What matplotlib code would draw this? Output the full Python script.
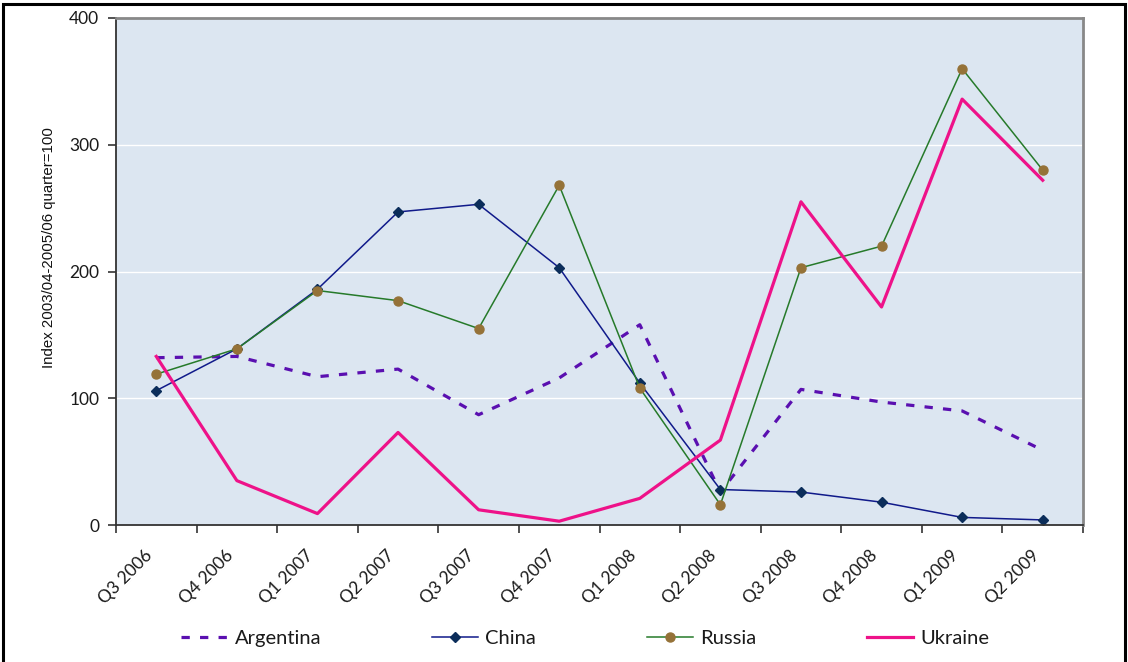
import matplotlib
matplotlib.use("Agg")
import matplotlib.pyplot as plt
import matplotlib.patches as patches
import matplotlib.transforms as mtransforms
import numpy as np

quarters = ["Q3 2006", "Q4 2006", "Q1 2007", "Q2 2007", "Q3 2007", "Q4 2007",
            "Q1 2008", "Q2 2008", "Q3 2008", "Q4 2008", "Q1 2009", "Q2 2009"]
argentina = [132, 133, 117, 123, 87, 116, 158, 26, 107, 97, 90, 59]
china = [106, 139, 186, 247, 253, 203, 112, 28, 26, 18, 6, 4]
russia = [119, 139, 185, 177, 155, 268, 108, 16, 203, 220, 360, 280]
ukraine = [133, 35, 9, 73, 12, 3, 21, 67, 255, 172, 336, 272]

plt.rcParams["font.family"] = ["Lato", "DejaVu Sans"]

fig = plt.figure(figsize=(11.28, 6.62), dpi=100)
ax = fig.add_axes([116 / 1128, 1 - 525 / 662, (1083 - 116) / 1128, (525 - 18) / 662])
ax.set_facecolor("#dce6f1")

x = np.arange(len(quarters))
ax.plot(x, argentina, color="#5a0fb0", lw=2.3, linestyle=(0, (2.6, 3.2)),
        label="Argentina")
ax.plot(x, china, color="#101a8a", lw=1.1, marker="D", markersize=5,
        markerfacecolor="#0b2d5a", markeredgecolor="#0b2d5a", label="China")
ax.plot(x, russia, color="#267a2a", lw=1.1, marker="o", markersize=6.5,
        markerfacecolor="#957238", markeredgecolor="#957238", label="Russia")
ax.plot(x, ukraine, color="#ee1289", lw=2.3, label="Ukraine")

ax.set_xlim(-0.5, len(quarters) - 0.5)
ax.set_ylim(0, 400)
ax.set_yticks([0, 100, 200, 300, 400])
ax.grid(axis="y", color="white", lw=1)
ax.set_axisbelow(True)

# category boundaries as major ticks, labels on centres
ax.set_xticks(np.arange(-0.5, len(quarters), 1.0))
ax.set_xticklabels([])
ax.set_xticks(x, minor=True)
ax.set_xticklabels(quarters, minor=True, rotation=45, ha="right",
                   rotation_mode="anchor", fontsize=12.5, color="#1a1a1a")
ax.tick_params(axis="x", which="minor", length=0, pad=16)
ax.tick_params(axis="x", which="major", length=6, width=1.2, color="#333333",
               direction="out")
ax.tick_params(axis="y", length=6, width=1.2, color="#333333", labelsize=12.5,
               labelcolor="#1a1a1a", pad=6)
shift = mtransforms.ScaledTranslation(-12 / 100, 0, fig.dpi_scale_trans)
for lab in ax.get_xticklabels(minor=True):
    lab.set_transform(lab.get_transform() + shift)

for side in ["left", "bottom"]:
    ax.spines[side].set_color("#333333")
    ax.spines[side].set_linewidth(1.3)
for side in ["top", "right"]:
    ax.spines[side].set_color("#888888")
    ax.spines[side].set_linewidth(2)

fig.text(49 / 1128, 1 - 248 / 662, "Index 2003/04-2005/06 quarter=100",
         rotation=90, ha="center", va="center", fontsize=10.8,
         family="Liberation Sans", color="#111111")

fig.legend(loc="center", bbox_to_anchor=(0.519, 1 - 638 / 662), ncol=4,
           frameon=False, fontsize=14.5, handlelength=2.3, columnspacing=5.5,
           handletextpad=0.35, labelcolor="#1a1a1a")

border = patches.Rectangle((3 / 1128, -0.05), (1125 - 3) / 1128, 1.05 - 4 / 662,
                           transform=fig.transFigure, fill=False,
                           edgecolor="black", lw=2.2)
fig.patches.append(border)

fig.savefig("out.png", dpi=100, facecolor="white")
